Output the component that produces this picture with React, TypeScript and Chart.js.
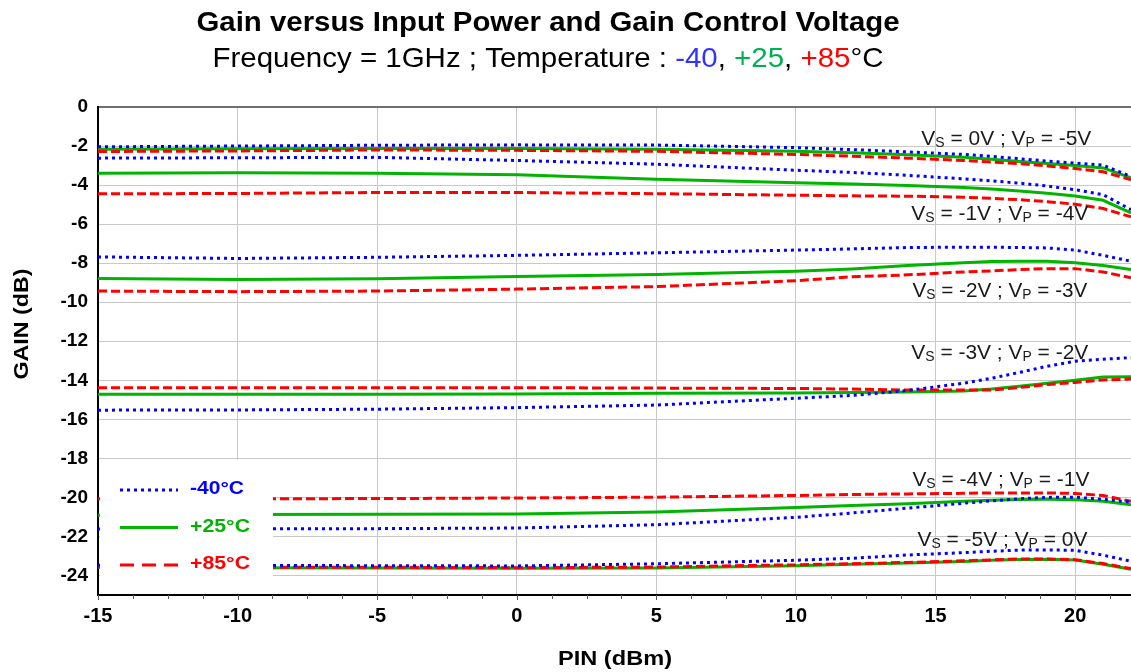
import React, { useEffect, useRef } from 'react';
import { Chart, registerables } from 'chart.js';

Chart.register(...registerables);

// ---------- DATA ----------
const PIN = [-15, -10, -5, 0, 5, 10, 12, 14, 16, 17, 18, 19, 20, 21, 22];

const X_TICKS = [-15, -10, -5, 0, 5, 10, 15, 20];
const Y_TICKS = [0, -2, -4, -6, -8, -10, -12, -14, -16, -18, -20, -22, -24];

const TEMPS = ['-40°C', '+25°C', '+85°C'];
const VS_LABELS = ['0V', '-1V', '-2V', '-3V', '-4V', '-5V'];
const VP_LABELS = ['-5V', '-4V', '-3V', '-2V', '-1V', '0V'];

// VS = 0V ; VP = -5V
const vs0_m40 = [-2.04, -2.0, -1.96, -1.94, -1.95, -2.08, -2.18, -2.3, -2.43, -2.53, -2.65, -2.77, -2.87, -2.98, -3.56];
const vs0_p25 = [-2.16, -2.14, -2.12, -2.13, -2.17, -2.27, -2.35, -2.45, -2.58, -2.68, -2.79, -2.9, -3.0, -3.12, -3.63];
const vs0_p85 = [-2.28, -2.25, -2.2, -2.22, -2.27, -2.43, -2.52, -2.62, -2.74, -2.82, -2.9, -3.02, -3.15, -3.32, -3.73];
// VS = -1V ; VP = -4V
const vs1_m40 = [-2.62, -2.6, -2.58, -2.74, -2.93, -3.24, -3.35, -3.5, -3.68, -3.78, -3.9, -4.05, -4.24, -4.49, -5.26];
const vs1_p25 = [-3.39, -3.37, -3.39, -3.47, -3.7, -3.88, -3.95, -4.02, -4.12, -4.2, -4.3, -4.42, -4.56, -4.78, -5.43];
const vs1_p85 = [-4.45, -4.43, -4.38, -4.38, -4.44, -4.52, -4.55, -4.57, -4.62, -4.68, -4.75, -4.85, -4.98, -5.2, -5.63];
// VS = -2V ; VP = -3V
const vs2_m40 = [-7.68, -7.76, -7.7, -7.6, -7.47, -7.33, -7.27, -7.2, -7.18, -7.18, -7.2, -7.22, -7.33, -7.6, -7.9];
const vs2_p25 = [-8.78, -8.84, -8.8, -8.68, -8.58, -8.42, -8.3, -8.12, -7.98, -7.92, -7.9, -7.9, -7.98, -8.12, -8.32];
const vs2_p85 = [-9.43, -9.46, -9.43, -9.33, -9.2, -8.9, -8.7, -8.6, -8.45, -8.4, -8.33, -8.28, -8.28, -8.45, -8.75];
// VS = -3V ; VP = -2V
const vs3_m40 = [-15.53, -15.52, -15.48, -15.4, -15.27, -14.92, -14.78, -14.52, -14.15, -13.9, -13.6, -13.28, -13.02, -12.92, -12.84];
const vs3_p25 = [-14.71, -14.71, -14.71, -14.7, -14.67, -14.65, -14.63, -14.6, -14.55, -14.45, -14.3, -14.15, -14.0, -13.83, -13.82];
const vs3_p85 = [-14.38, -14.38, -14.38, -14.38, -14.4, -14.42, -14.45, -14.5, -14.5, -14.5, -14.37, -14.22, -14.11, -13.98, -13.94];
// VS = -4V ; VP = -1V
const vs4_m40 = [-21.62, -21.6, -21.6, -21.57, -21.4, -21.02, -20.8, -20.55, -20.3, -20.18, -20.07, -20.0, -19.99, -20.1, -20.24];
const vs4_p25 = [-20.92, -20.88, -20.86, -20.85, -20.75, -20.52, -20.42, -20.32, -20.2, -20.15, -20.11, -20.1, -20.12, -20.2, -20.38];
const vs4_p85 = [-20.07, -20.07, -20.06, -20.03, -19.99, -19.9, -19.85, -19.82, -19.79, -19.77, -19.77, -19.77, -19.8, -19.9, -20.2];
// VS = -5V ; VP = 0V
const vs5_m40 = [-23.48, -23.48, -23.5, -23.51, -23.4, -23.22, -23.12, -22.95, -22.83, -22.76, -22.7, -22.69, -22.71, -22.96, -23.27];
const vs5_p25 = [-23.58, -23.6, -23.62, -23.63, -23.62, -23.5, -23.43, -23.36, -23.28, -23.22, -23.18, -23.17, -23.21, -23.42, -23.68];
const vs5_p85 = [-23.56, -23.57, -23.58, -23.6, -23.57, -23.45, -23.4, -23.33, -23.25, -23.2, -23.15, -23.15, -23.19, -23.39, -23.65];

const SERIES_M40 = [vs0_m40, vs1_m40, vs2_m40, vs3_m40, vs4_m40, vs5_m40];
const SERIES_P25 = [vs0_p25, vs1_p25, vs2_p25, vs3_p25, vs4_p25, vs5_p25];
const SERIES_P85 = [vs0_p85, vs1_p85, vs2_p85, vs3_p85, vs4_p85, vs5_p85];

// ---------- STYLE ----------
const FONT = 'Arial, "Liberation Sans", sans-serif';
const BLUE = '#0000FF';
const GREEN = '#00B400';
const RED = '#FF0000';
const STYLES = [
  { color: BLUE, dash: [3, 4] },
  { color: GREEN, dash: [] as number[] },
  { color: RED, dash: [9, 4] },
];

// annotation anchors in data coordinates (left x, baseline y) and target widths
const LABEL_ANCHORS = [
  { x: 14.49, y: -1.94, w: 170 },
  { x: 14.13, y: -5.77, w: 177 },
  { x: 14.17, y: -9.75, w: 175 },
  { x: 14.13, y: -12.92, w: 177 },
  { x: 14.17, y: -19.41, w: 177 },
  { x: 14.35, y: -22.47, w: 170 },
];

type Seg = { t: string; color: string; font: string; dy?: number };

function drawSegs(ctx: CanvasRenderingContext2D, segs: Seg[], x: number, y: number, align: 'left' | 'center', targetW?: number) {
  ctx.save();
  ctx.textAlign = 'left';
  ctx.textBaseline = 'alphabetic';
  const widths = segs.map((s) => {
    ctx.font = s.font;
    return ctx.measureText(s.t).width;
  });
  const total = widths.reduce((a, b) => a + b, 0);
  const w = targetW || total;
  const sx = w / total;
  const startX = align === 'center' ? x - w / 2 : x;
  ctx.translate(startX, y);
  ctx.scale(sx, 1);
  let cx = 0;
  segs.forEach((s, i) => {
    ctx.font = s.font;
    ctx.fillStyle = s.color;
    ctx.fillText(s.t, cx, s.dy || 0);
    cx += widths[i];
  });
  ctx.restore();
}

const decorPlugin = {
  id: 'decor',
  afterDatasetsDraw(chart: any) {
    const ctx: CanvasRenderingContext2D = chart.ctx;
    const xs = chart.scales.x;
    const ys = chart.scales.y;

    // curve annotations
    LABEL_ANCHORS.forEach((a, i) => {
      const big = `21px ${FONT}`;
      const small = `14px ${FONT}`;
      const c = '#1a1a1a';
      drawSegs(
        ctx,
        [
          { t: 'V', color: c, font: big },
          { t: 'S', color: c, font: small, dy: 2 },
          { t: ` = ${VS_LABELS[i]} ; V`, color: c, font: big },
          { t: 'P', color: c, font: small, dy: 2 },
          { t: ` = ${VP_LABELS[i]}`, color: c, font: big },
        ],
        xs.getPixelForValue(a.x),
        ys.getPixelForValue(a.y),
        'left',
        a.w
      );
    });

    // legend box
    ctx.save();
    ctx.fillStyle = '#FFFFFF';
    ctx.fillRect(100, 460, 173, 133);
    const rows = [490, 527.5, 565];
    const textBase = [494, 532, 569];
    const textW = [54, 60, 60];
    const legendDash = [[3, 4], [], [14, 8]];
    STYLES.forEach((s, i) => {
      ctx.save();
      ctx.strokeStyle = s.color;
      ctx.lineWidth = 3;
      ctx.setLineDash(legendDash[i]);
      ctx.beginPath();
      ctx.moveTo(120, rows[i]);
      ctx.lineTo(178, rows[i]);
      ctx.stroke();
      ctx.restore();
      drawSegs(ctx, [{ t: TEMPS[i], color: s.color, font: `bold 18px ${FONT}` }], 190, textBase[i], 'left', textW[i]);
    });
    ctx.restore();
  },
  afterDraw(chart: any) {
    const ctx: CanvasRenderingContext2D = chart.ctx;
    const xs = chart.scales.x;
    const area = chart.chartArea;

    // minor ticks on x axis
    ctx.save();
    ctx.strokeStyle = '#555';
    ctx.lineWidth = 1;
    for (let v = -15; v <= 22.001; v += 1.25) {
      const px = Math.round(xs.getPixelForValue(v)) + 0.5;
      ctx.beginPath();
      ctx.moveTo(px, area.bottom);
      ctx.lineTo(px, area.bottom + (Math.abs(v % 5) < 0.01 ? 5 : 4));
      ctx.stroke();
    }
    ctx.restore();

    // titles
    drawSegs(ctx, [{ t: 'Gain versus Input Power and Gain Control Voltage', color: '#000', font: `bold 27px ${FONT}` }], 548, 31, 'center', 703);
    const sub = `28px ${FONT}`;
    drawSegs(
      ctx,
      [
        { t: 'Frequency = 1GHz ; Temperature : ', color: '#000', font: sub },
        { t: '-40', color: '#3333FF', font: sub },
        { t: ', ', color: '#000', font: sub },
        { t: '+25', color: '#00B050', font: sub },
        { t: ', ', color: '#000', font: sub },
        { t: '+85', color: '#FF0000', font: sub },
        { t: '°C', color: '#000', font: sub },
      ],
      548,
      67,
      'center',
      671
    );

    // axis titles
    drawSegs(ctx, [{ t: 'PIN (dBm)', color: '#000', font: `bold 21px ${FONT}` }], 615, 665, 'center', 114);
    ctx.save();
    ctx.translate(28, 324);
    ctx.rotate(-Math.PI / 2);
    drawSegs(ctx, [{ t: 'GAIN (dB)', color: '#000', font: `bold 20px ${FONT}` }], 0, 0, 'center', 111);
    ctx.restore();
  },
};

export default function App() {
  const canvasRef = useRef<HTMLCanvasElement | null>(null);

  useEffect(() => {
    const canvas = canvasRef.current;
    if (!canvas) return;

    const groups = [SERIES_M40, SERIES_P85, SERIES_P25];
    const styleIdx = [0, 2, 1];
    const datasets: any[] = [];
    groups.forEach((series, gi) => {
      const st = STYLES[styleIdx[gi]];
      series.forEach((vals, si) => {
        datasets.push({
          label: `${TEMPS[styleIdx[gi]]} VS=${VS_LABELS[si]}`,
          data: PIN.map((x, k) => ({ x, y: vals[k] })),
          borderColor: st.color,
          backgroundColor: st.color,
          borderWidth: 3,
          borderDash: st.dash,
          borderCapStyle: 'butt',
          pointRadius: 0,
          fill: false,
          tension: 0,
        });
      });
    });

    const chart = new Chart(canvas, {
      type: 'line',
      data: { datasets },
      options: {
        responsive: false,
        animation: false,
        devicePixelRatio: 1,
        layout: { padding: { top: 107, right: 0, left: 0, bottom: 0 } },
        plugins: { legend: { display: false }, title: { display: false }, tooltip: { enabled: false } },
        scales: {
          x: {
            type: 'linear',
            min: -15,
            max: 22,
            afterBuildTicks: (s: any) => {
              s.ticks = X_TICKS.map((v) => ({ value: v }));
            },
            afterFit: (s: any) => {
              s.height = 77;
            },
            grid: {
              color: '#C8C8C8',
              lineWidth: 1,
              drawTicks: false,
            },
            border: { color: '#000', width: 2 },
            ticks: {
              color: '#000',
              font: { family: FONT, size: 20, weight: 'bold' },
              padding: 9,
              maxRotation: 0,
              autoSkip: false,
            },
          },
          y: {
            type: 'linear',
            min: -25,
            max: 0,
            afterBuildTicks: (s: any) => {
              s.ticks = Y_TICKS.map((v) => ({ value: v }));
            },
            afterFit: (s: any) => {
              s.width = 98;
            },
            grid: {
              color: (c: any) => (c.tick && c.tick.value === 0 ? '#707070' : '#C8C8C8'),
              lineWidth: (c: any) => (c.tick && c.tick.value === 0 ? 2 : 1),
              drawTicks: false,
            },
            border: { color: '#000', width: 2 },
            ticks: {
              color: '#000',
              font: { family: FONT, size: 19, weight: 'bold' },
              padding: 10,
              autoSkip: false,
            },
          },
        },
      } as any,
      plugins: [decorPlugin],
    });

    return () => chart.destroy();
  }, []);

  return (
    <div style={{ position: 'fixed', left: 0, top: 0, width: 1131, height: 672, background: '#fff' }}>
      <canvas ref={canvasRef} width={1131} height={672} style={{ width: 1131, height: 672, display: 'block' }} />
    </div>
  );
}
